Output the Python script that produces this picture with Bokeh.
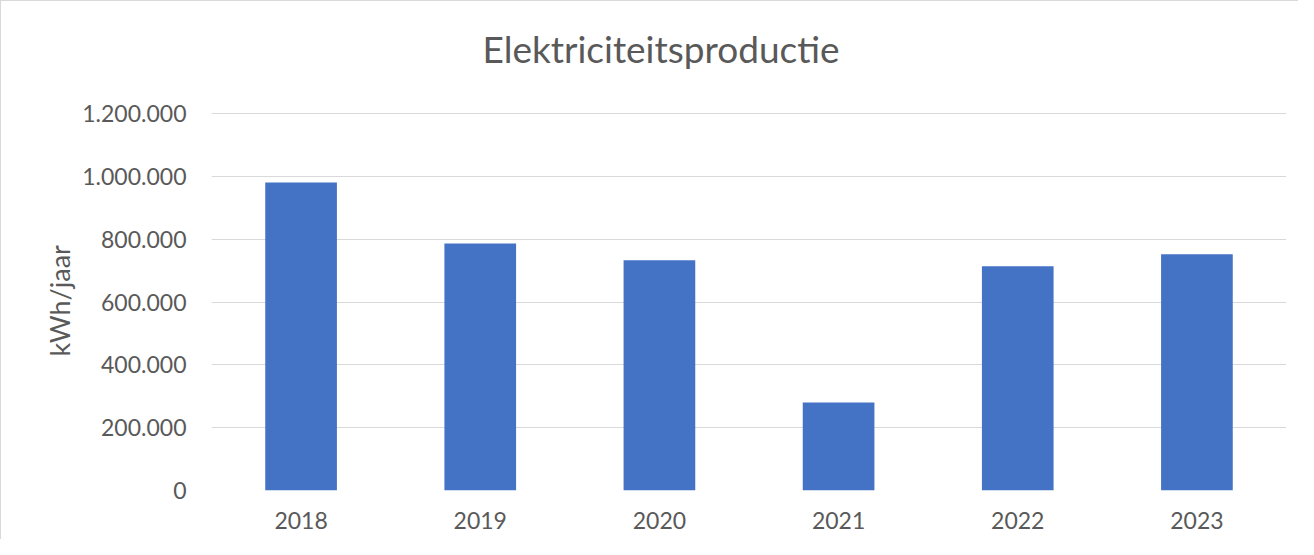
from bokeh.plotting import figure
from bokeh.models import FixedTicker, Range1d, Label, Title
from bokeh.embed import file_html
from bokeh.resources import INLINE

years = ["2018", "2019", "2020", "2021", "2022", "2023"]
production_kwh = [980000, 786000, 733000, 280000, 714000, 752000]
y_ticks = [0, 200000, 400000, 600000, 800000, 1000000, 1200000]
y_tick_labels = ["0", "200.000", "400.000", "600.000", "800.000", "1.000.000", "1.200.000"]
title_text = "Elektriciteitsproductie"
y_label = "kWh/jaar"

FONT = "Lato"
TXT = "#595959"

# frame reaches the top of the canvas so the title can sit inside it
p = figure(x_range=years, y_range=Range1d(0, 1556500),
           width=1298, height=539, output_backend="svg", toolbar_location=None,
           min_border_left=210, min_border_right=13, min_border_top=0, min_border_bottom=50)

p.vbar(x=years, top=production_kwh, width=0.4, color="#4472C4", line_color=None)

title = Label(x=449.5, y=442, x_units="screen", y_units="screen", text=title_text,
              text_font=FONT, text_font_size="37px", text_color=TXT,
              text_align="center", text_baseline="alphabetic")
p.add_layout(title)

p.outline_line_color = None
p.background_fill_color = "white"
p.border_fill_color = "white"

p.xgrid.grid_line_color = None
p.ygrid.grid_line_color = "#d9d9d9"
p.ygrid.grid_line_width = 1

p.yaxis.ticker = FixedTicker(ticks=y_ticks)
p.yaxis.major_label_overrides = {t: l for t, l in zip(y_ticks, y_tick_labels)}

for ax in (p.xaxis, p.yaxis):
    ax.axis_line_color = None
    ax.major_tick_line_color = None
    ax.minor_tick_line_color = None
    ax.major_tick_out = 0
    ax.major_tick_in = 0
    ax.major_label_text_font = FONT
    ax.major_label_text_font_size = "23px"
    ax.major_label_text_color = TXT

p.yaxis.major_label_standoff = 25
p.xaxis.major_label_standoff = 21

# y-axis title, positioned along the visible value range
ytitle = Title(text=y_label, align="left", offset=134, standoff=8,
               text_font=FONT, text_font_size="27px", text_font_style="normal",
               text_color=TXT)
p.add_layout(ytitle, "left")

p.styles = {"border-top": "1px solid #d9d9d9", "border-left": "1px solid #d9d9d9"}

open("out.html", "w").write(file_html(p, INLINE))
